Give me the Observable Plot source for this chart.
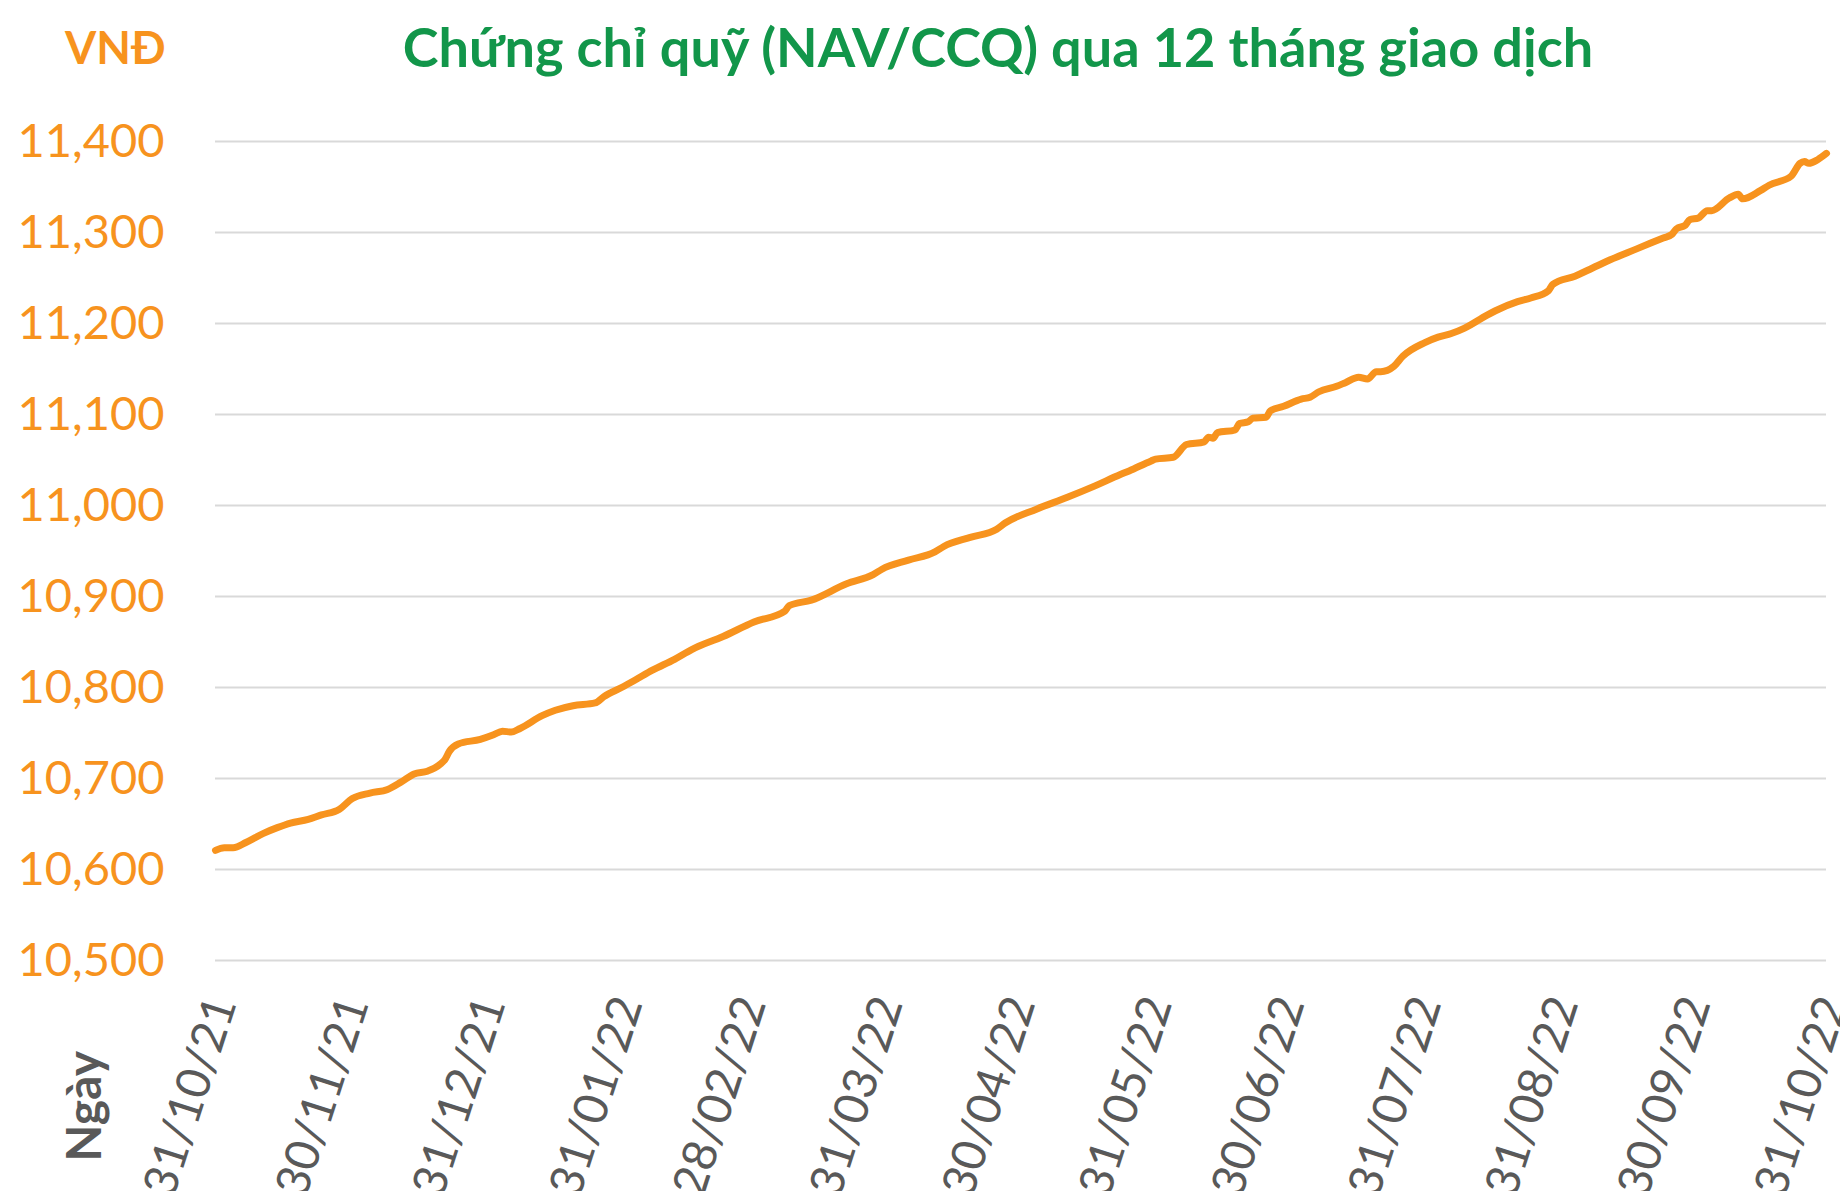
<!DOCTYPE html>
<html><head><meta charset="utf-8">
<script src="https://cdn.jsdelivr.net/npm/d3@7"></script>
<script src="https://cdn.jsdelivr.net/npm/@observablehq/plot@0.6"></script>
<style>
html,body{margin:0;padding:0;background:#fff;overflow:hidden;}
#wrap{position:relative;width:1840px;height:1191px;}
#header{position:relative;width:1840px;height:100px;}
.unit{position:absolute;left:65px;top:25px;font-family:Lato,sans-serif;font-weight:bold;font-size:45px;color:#F7931E;line-height:1;}
.title{position:absolute;left:998px;top:20px;transform:translateX(-50%);font-family:Lato,sans-serif;font-weight:bold;font-size:54px;color:#12964A;white-space:nowrap;line-height:1;}
#chart svg{display:block;}
</style></head><body>
<div id="wrap">
  <div id="header">
    <div class="unit">VNĐ</div>
    <div class="title">Chứng chỉ quỹ (NAV/CCQ) qua 12 tháng giao dịch</div>
  </div>
  <div id="chart"></div>
</div>
<script>
const dates = ["2021-10-31","2021-11-02","2021-11-04","2021-11-07","2021-11-11","2021-11-14","2021-11-17","2021-11-21","2021-11-24","2021-11-28",
"2021-12-01","2021-12-05","2021-12-09","2021-12-12","2021-12-15","2021-12-18","2021-12-21","2021-12-22","2021-12-23","2021-12-25","2021-12-30",
"2022-01-02","2022-01-04","2022-01-06","2022-01-08","2022-01-13","2022-01-16","2022-01-20","2022-01-25","2022-01-27","2022-01-31",
"2022-02-03","2022-02-07","2022-02-12","2022-02-16","2022-02-23",
"2022-03-02","2022-03-09","2022-03-10","2022-03-15","2022-03-23","2022-03-29","2022-03-31",
"2022-04-06","2022-04-12","2022-04-14","2022-04-20","2022-04-26","2022-04-28",
"2022-05-05","2022-05-12","2022-05-18","2022-05-24","2022-05-26","2022-05-31",
"2022-06-01","2022-06-05","2022-06-08","2022-06-12","2022-06-13","2022-06-14","2022-06-15","2022-06-19","2022-06-20","2022-06-22","2022-06-23","2022-06-26","2022-06-27","2022-06-30",
"2022-07-04","2022-07-06","2022-07-08","2022-07-12","2022-07-14","2022-07-17","2022-07-19","2022-07-21","2022-07-22","2022-07-25","2022-07-27",
"2022-08-01","2022-08-04","2022-08-07","2022-08-10","2022-08-15","2022-08-17","2022-08-22","2022-08-25","2022-08-29","2022-08-30",
"2022-09-04","2022-09-08","2022-09-12","2022-09-18","2022-09-24","2022-09-26","2022-09-27","2022-09-29","2022-09-30",
"2022-10-02","2022-10-04","2022-10-05","2022-10-09","2022-10-11","2022-10-12","2022-10-16","2022-10-18","2022-10-23","2022-10-25","2022-10-26","2022-10-27","2022-10-29","2022-10-31"];

const navs = [10621,10624,10624,10630,10640,10646,10651,10655,10660,10666,
10678,10684,10688,10696,10705,10708,10716,10721,10730,10738,10743,
10748,10752,10751,10755,10769,10775,10780,10783,10790,10800,
10808,10819,10831,10842,10856,
10872,10884,10890,10896,10914,10924,10930,
10940,10949,10955,10965,10974,10981,
10996,11009,11021,11034,11038,11049,
11051,11053,11067,11070,11075,11074,11080,11083,11090,11092,11096,11097,11104,11109,
11117,11119,11125,11131,11135,11141,11139,11147,11147,11153,11164,
11179,11185,11189,11195,11209,11214,11224,11228,11236,11243,
11252,11261,11270,11282,11294,11298,11304,11308,11314,
11316,11324,11324,11338,11342,11337,11346,11352,11362,11376,11378,11376,11380,11387];

const tickDates = ["2021-10-31","2021-11-30","2021-12-31","2022-01-31","2022-02-28","2022-03-31","2022-04-30","2022-05-31","2022-06-30","2022-07-31","2022-08-31","2022-09-30","2022-10-31"];
const yTicks = [10500,10600,10700,10800,10900,11000,11100,11200,11300,11400];
const xTitle = "Ngày";

const data = dates.map((d, i) => ({date: new Date(d), nav: navs[i]}));

const chart = Plot.plot({
  width: 1840,
  height: 1091,
  marginTop: 41,
  marginBottom: 231,
  marginLeft: 215,
  marginRight: 14,
  style: {fontFamily: "Lato, sans-serif", background: "#fff", overflow: "visible"},
  x: {type: "utc", domain: [new Date(dates[0]), new Date(dates[dates.length - 1])]},
  y: {domain: [10500, 11400]},
  marks: [
    Plot.gridY(yTicks, {stroke: "#d9d9d9", strokeOpacity: 1, strokeWidth: 2}),
    Plot.axisY(yTicks, {tickSize: 0, tickPadding: 51, tickFormat: d3.format(","), fill: "#F7931E", fontSize: 47, label: null}),
    Plot.axisX(tickDates.map(d => new Date(d)), {tickSize: 0, tickPadding: 38, tickRotate: -72, tickFormat: d3.utcFormat("%d/%m/%y"), fill: "#595959", fontSize: 47, label: null, dx: 7}),
    Plot.line(data, {x: "date", y: "nav", stroke: "#F7931E", strokeWidth: 7, curve: "monotone-x", strokeLinecap: "round", strokeLinejoin: "round"}),
    Plot.text([xTitle], {frameAnchor: "bottom-left", dx: -115, dy: 201, rotate: -90, text: d => d, fontSize: 48, fontWeight: "bold", fill: "#595959"})
  ]
});
document.getElementById("chart").appendChild(chart);
</script>
</body></html>
